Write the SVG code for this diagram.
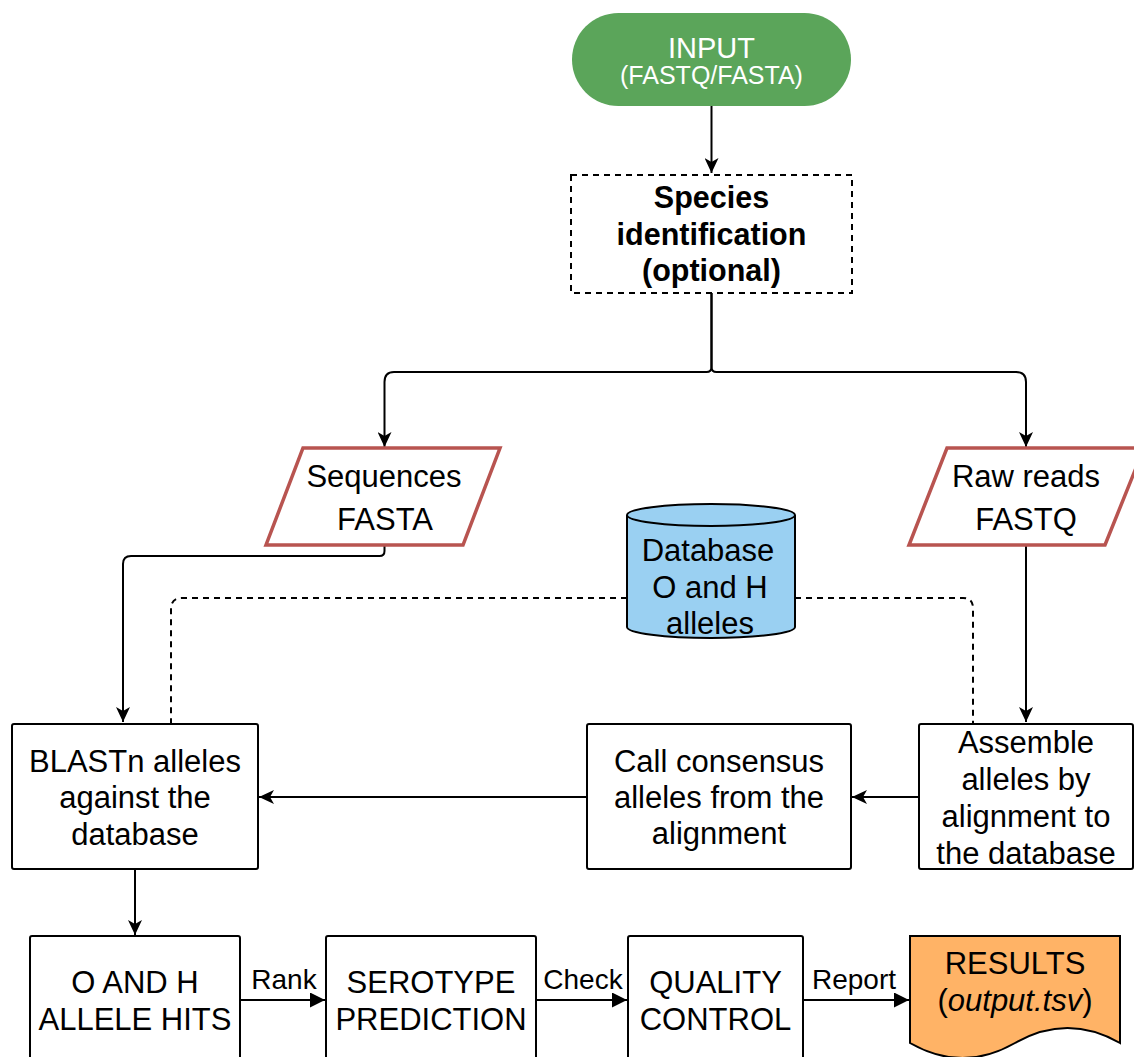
<svg xmlns="http://www.w3.org/2000/svg" width="1134" height="1057" viewBox="0 0 1134 1057">
<style>
text{font-family:"Liberation Sans",Arial,sans-serif;font-size:31px;fill:#000;text-anchor:middle}
.box{fill:#fff;stroke:#000;stroke-width:2}
.para{fill:#fff;stroke:#b85450;stroke-width:3.5}
.ln{fill:none;stroke:#000;stroke-width:2}
.dash{fill:none;stroke:#000;stroke-width:2;stroke-dasharray:6 5}
.lbl{font-size:28px}
.sp{font-size:30.5px;font-weight:bold}
</style>
<defs>
<marker id="cl" markerUnits="userSpaceOnUse" markerWidth="16" markerHeight="14" refX="15" refY="7" orient="auto">
<path d="M0,0 L15,7 L0,14 L4,7 Z" fill="#000"/>
</marker>
<marker id="bl" markerUnits="userSpaceOnUse" markerWidth="16" markerHeight="15" refX="15" refY="7.5" orient="auto">
<path d="M0,0 L15,7.5 L0,15 Z" fill="#000"/>
</marker>
</defs>
<rect width="1134" height="1057" fill="#fff"/>
<g id="connectors">
<path class="ln" d="M711.5,106 V173" marker-end="url(#cl)"/>
<path class="ln" d="M711.5,293 V367 Q711.5,372 706.5,372 H394 Q384.5,372 384.5,382 V447" marker-end="url(#cl)"/>
<path class="ln" d="M711.5,293 V367 Q711.5,372 716.5,372 H1016 Q1026,372 1026,382 V447" marker-end="url(#cl)"/>
<path class="ln" d="M384.5,545 V551 Q384.5,556 379.5,556 H131 Q123,556 123,564 V722" marker-end="url(#cl)"/>
<path class="ln" d="M1026,545 V722" marker-end="url(#cl)"/>
<path class="dash" d="M627,598 H182 Q171,598 171,609 V723"/>
<path class="dash" d="M795,598 H963 Q973,598 973,608 V723"/>
<path class="ln" d="M919,797 H852" marker-end="url(#cl)"/>
<path class="ln" d="M587,797 H259" marker-end="url(#cl)"/>
<path class="ln" d="M135,869 V935" marker-end="url(#cl)"/>
<path class="ln" d="M240,1000 H325" marker-end="url(#bl)"/>
<path class="ln" d="M536,1000 H627" marker-end="url(#bl)"/>
<path class="ln" d="M803,1000 H909" marker-end="url(#bl)"/>
<text class="lbl" x="284" y="989">Rank</text>
<text class="lbl" x="583" y="989">Check</text>
<text class="lbl" x="854" y="989">Report</text>
</g>
<g id="input">
<rect x="572" y="13" width="279" height="93" rx="46.5" fill="#5ba55a"/>
<text x="711.5" y="58" style="font-size:29px;fill:#fff">INPUT</text>
<text x="711.5" y="84" style="font-size:25px;fill:#fff">(FASTQ/FASTA)</text>
</g>
<g id="species">
<rect x="571" y="175" width="281" height="118" fill="#fff" stroke="#000" stroke-width="2" stroke-dasharray="6 5"/>
<text class="sp" x="711.5" y="208">Species</text>
<text class="sp" x="711.5" y="245">identification</text>
<text class="sp" x="711.5" y="281">(optional)</text>
</g>
<g id="sequences">
<path class="para" d="M303,448 H500 L463,545 H266 Z"/>
<text x="384" y="487">Sequences</text>
<text x="385" y="530">FASTA</text>
</g>
<g id="rawreads">
<path class="para" d="M947,448 H1144 L1105,545 H909 Z"/>
<text x="1026" y="487">Raw reads</text>
<text x="1026" y="530">FASTQ</text>
</g>
<g id="database">
<path d="M627,515 A84,11 0 0,1 795,515 V627 A84,11 0 0,1 627,627 Z" fill="#9ad0f2" stroke="#000" stroke-width="2"/>
<path d="M627,515 A84,11 0 0,0 795,515" fill="none" stroke="#000" stroke-width="2"/>
<text x="708" y="561">Database</text>
<text x="710" y="598">O and H</text>
<text x="710" y="634">alleles</text>
</g>
<g id="blastn">
<rect class="box" x="12" y="724" width="246" height="145" rx="2"/>
<text x="135" y="772">BLASTn alleles</text>
<text x="135" y="808">against the</text>
<text x="135" y="845">database</text>
</g>
<g id="consensus">
<rect class="box" x="587" y="724" width="264" height="145" rx="2"/>
<text x="719" y="772">Call consensus</text>
<text x="719" y="808">alleles from the</text>
<text x="719" y="844">alignment</text>
</g>
<g id="assemble">
<rect class="box" x="919" y="724" width="214" height="145" rx="2"/>
<text x="1026" y="753">Assemble</text>
<text x="1026" y="790">alleles by</text>
<text x="1026" y="827">alignment to</text>
<text x="1026" y="864">the database</text>
</g>
<g id="hits">
<rect class="box" x="30" y="936" width="210" height="140" rx="2"/>
<text x="135" y="993">O AND H</text>
<text x="135" y="1030">ALLELE HITS</text>
</g>
<g id="serotype">
<rect class="box" x="326" y="936" width="210" height="140" rx="2"/>
<text x="431" y="993">SEROTYPE</text>
<text x="431" y="1030">PREDICTION</text>
</g>
<g id="qc">
<rect class="box" x="628" y="936" width="175" height="140" rx="2"/>
<text x="715.5" y="993">QUALITY</text>
<text x="715.5" y="1030">CONTROL</text>
</g>
<g id="results">
<path d="M910,936 H1120 V1043 Q1067.5,1013 1015,1043 Q962.5,1073 910,1043 Z" fill="#ffb366" stroke="#000" stroke-width="2"/>
<text x="1015" y="974">RESULTS</text>
<text x="1015" y="1011">(<tspan font-style="italic">output.tsv</tspan>)</text>
</g>
</svg>
